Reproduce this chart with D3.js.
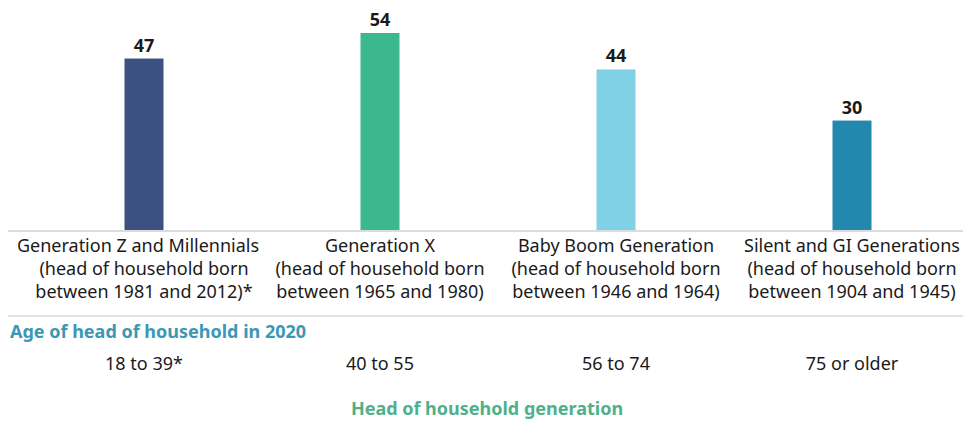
<!DOCTYPE html>
<html>
<head>
<meta charset="utf-8">
<script src="https://cdn.jsdelivr.net/npm/d3@7"></script>
<style>
  body { margin: 0; background: #fff; }
  svg { display: block; font-family: "Noto Sans", "Open Sans", sans-serif; }
</style>
</head>
<body>
<svg id="chart" width="963" height="421"></svg>
<script>
// data
const generations = ["Generation Z and Millennials", "Generation X", "Baby Boom Generation", "Silent and GI Generations"];
const bornLines = [
  ["(head of household born", "between 1981 and 2012)*"],
  ["(head of household born", "between 1965 and 1980)"],
  ["(head of household born", "between 1946 and 1964)"],
  ["(head of household born", "between 1904 and 1945)"]
];
const ages = ["18 to 39*", "40 to 55", "56 to 74", "75 or older"];
const values = [47, 54, 44, 30];
const colors = ["#3d5082", "#3bb88e", "#80d1e6", "#2487ae"];

const svg = d3.select("#chart");

const x = d3.scaleBand().domain(generations).range([26, 970]).paddingInner(0);
const y = d3.scaleLinear().domain([0, 54]).range([230, 33]);
const barW = 39;
const fs = 18;
const cx = d => x(d) + x.bandwidth() / 2;

// separator lines
svg.append("line")
    .attr("x1", 8).attr("x2", 963).attr("y1", 231).attr("y2", 231)
    .attr("stroke", "#d0d0d0").attr("stroke-width", 1.5);
svg.append("line")
    .attr("x1", 8).attr("x2", 963).attr("y1", 316).attr("y2", 316)
    .attr("stroke", "#d9d9d9").attr("stroke-width", 1.5);

// bars
svg.selectAll("rect.bar")
    .data(generations)
    .enter().append("rect")
    .attr("class", "bar")
    .attr("x", d => cx(d) - barW / 2)
    .attr("y", (d, i) => y(values[i]))
    .attr("width", barW)
    .attr("height", (d, i) => y(0) - y(values[i]))
    .attr("fill", (d, i) => colors[i]);

// value labels
svg.selectAll("text.val")
    .data(generations)
    .enter().append("text")
    .attr("class", "val")
    .attr("x", d => cx(d))
    .attr("y", (d, i) => y(values[i]) - 7)
    .attr("text-anchor", "middle")
    .attr("font-size", 18)
    .attr("font-weight", "bold")
    .attr("fill", "#1a1a1a")
    .text((d, i) => values[i]);

// category labels (3 lines); first label sits a bit left in the original
const cat = svg.selectAll("text.cat")
    .data(generations)
    .enter().append("text")
    .attr("class", "cat")
    .attr("text-anchor", "middle")
    .attr("font-size", fs)
    .attr("fill", "#1a1a1a");
cat.each(function(d, i) {
    const t = d3.select(this);
    [d].concat(bornLines[i]).forEach((line, j) => {
        const shift = (i === 0 && j === 0) ? -6 : 0;
        t.append("tspan")
            .attr("x", cx(d) + shift)
            .attr("y", 252 + j * 23)
            .text(line);
    });
});

// age section
svg.append("text")
    .attr("x", 10).attr("y", 338)
    .attr("font-size", fs).attr("font-weight", "bold")
    .attr("fill", "#3b98b5")
    .text("Age of head of household in 2020");

svg.selectAll("text.age")
    .data(generations)
    .enter().append("text")
    .attr("class", "age")
    .attr("x", d => cx(d))
    .attr("y", 370)
    .attr("text-anchor", "middle")
    .attr("font-size", fs)
    .attr("fill", "#1a1a1a")
    .text((d, i) => ages[i]);

// bottom title
svg.append("text")
    .attr("x", 487).attr("y", 415)
    .attr("text-anchor", "middle")
    .attr("font-size", fs).attr("font-weight", "bold")
    .attr("fill", "#4fb08a")
    .text("Head of household generation");
</script>
</body>
</html>
